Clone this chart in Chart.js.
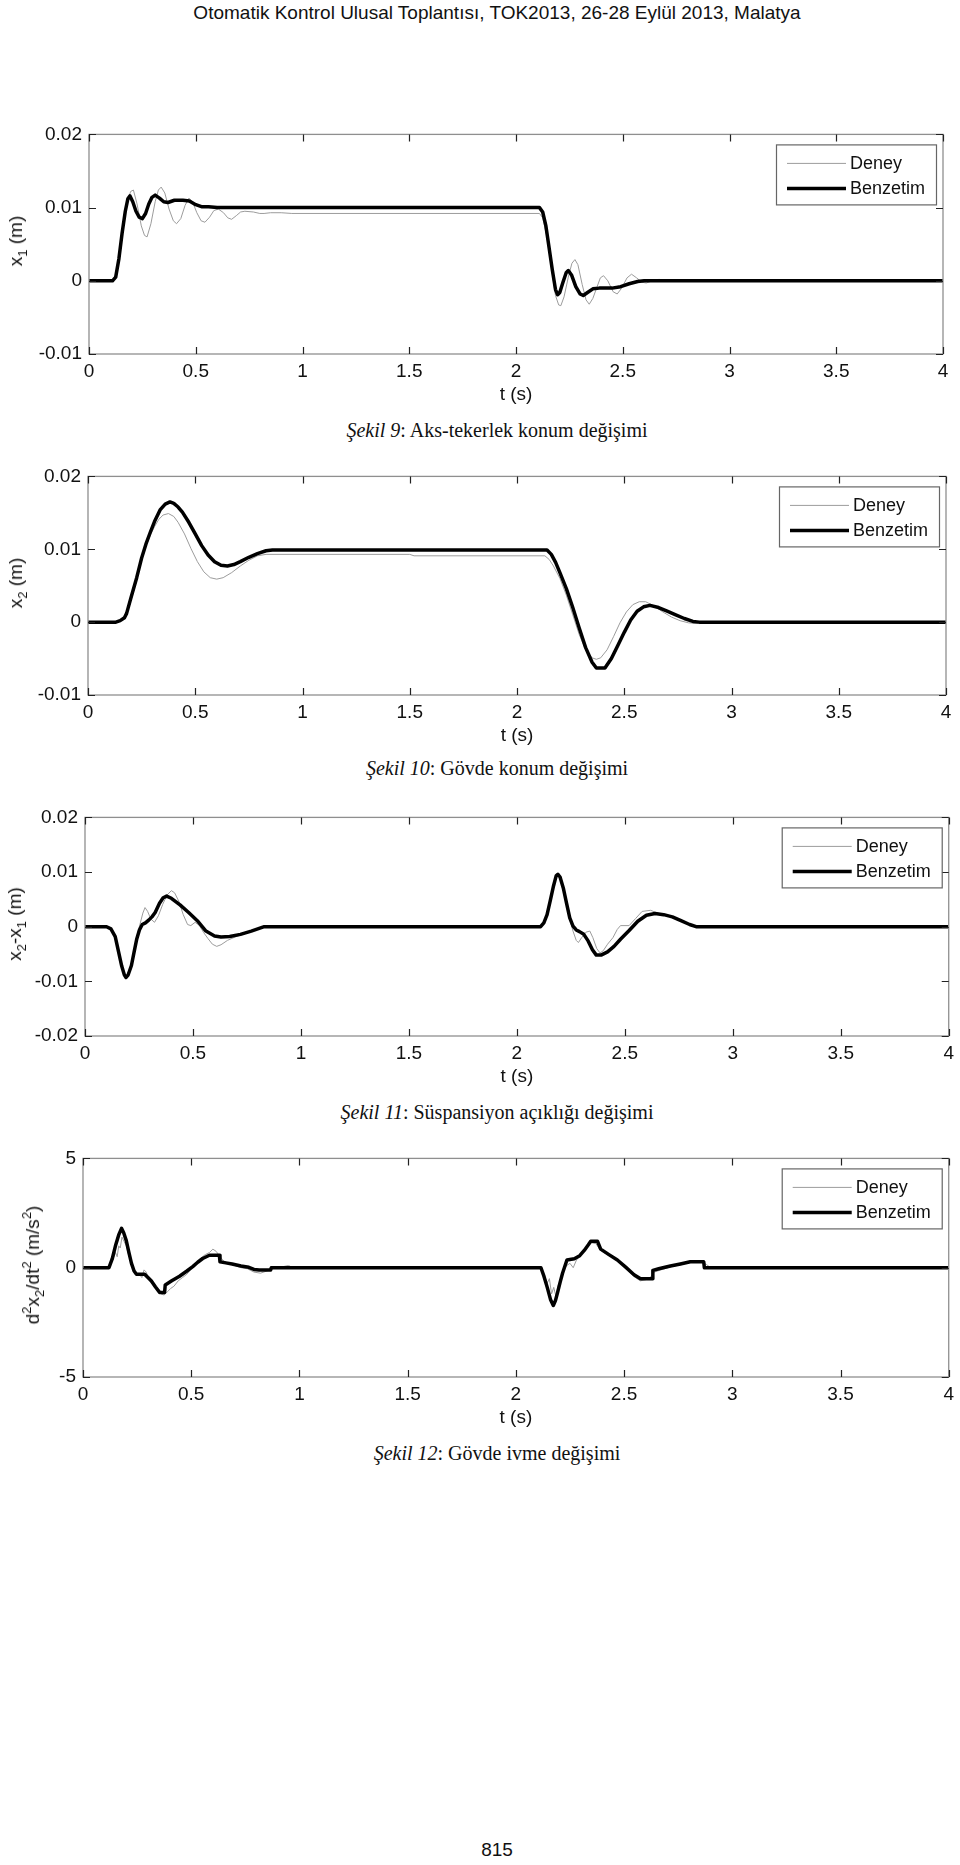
<!DOCTYPE html>
<html lang="tr">
<head>
<meta charset="utf-8">
<title>Şekil 9-12</title>
<script src="https://cdn.jsdelivr.net/npm/chart.js@4.4.0/dist/chart.umd.min.js"></script>
<style>
  html, body { margin: 0; padding: 0; background: #fff; }
  body { width: 960px; height: 1865px; position: relative; overflow: hidden;
         font-family: 'Liberation Sans', Arial, sans-serif; color: #111; }
  canvas { position: absolute; left: 0; }
  .header { position: absolute; top: 2px; left: 0; width: 994px; text-align: center; font-size: 19px; }
  .caption { position: absolute; left: 0; width: 994px; text-align: center; line-height: 22px;
             font-family: 'Liberation Serif', 'Times New Roman', serif; font-size: 20px; }
  .caption i { font-style: italic; }
  .ylab { position: absolute; white-space: nowrap; font-size: 19px; line-height: 22px;
          transform: translate(-50%, -50%) rotate(-90deg); }
  .ylab sub { font-size: 13px; vertical-align: -5px; line-height: 0; }
  .ylab sup { font-size: 13px; vertical-align: 8px; line-height: 0; }
  .page { position: absolute; top: 1839px; left: 0; width: 994px; text-align: center; font-size: 19px; }
</style>
</head>
<body>
<div class="header">Otomatik Kontrol Ulusal Toplantısı, TOK2013, 26-28 Eylül 2013, Malatya</div>

<canvas id="c1" width="960" height="292" style="top:116px"></canvas>
<div class="ylab" style="left:16px; top:241px">x<sub>1</sub> (m)</div>
<div class="caption" style="top:419px"><i>Şekil 9</i>: Aks-tekerlek konum değişimi</div>

<canvas id="c2" width="960" height="291" style="top:458px"></canvas>
<div class="ylab" style="left:16px; top:583px">x<sub>2</sub> (m)</div>
<div class="caption" style="top:757px"><i>Şekil 10</i>: Gövde konum değişimi</div>

<canvas id="c3" width="960" height="291" style="top:799px"></canvas>
<div class="ylab" style="left:15px; top:924px">x<sub>2</sub>-x<sub>1</sub> (m)</div>
<div class="caption" style="top:1101px"><i>Şekil 11</i>: Süspansiyon açıklığı değişimi</div>

<canvas id="c4" width="960" height="291" style="top:1140px"></canvas>
<div class="ylab" style="left:33px; top:1265px">d<sup>2</sup>x<sub>2</sub>/dt<sup>2</sup> (m/s<sup>2</sup>)</div>
<div class="caption" style="top:1442px"><i>Şekil 12</i>: Gövde ivme değişimi</div>

<div class="page">815</div>

<script>
// time axis, shared by all panels
const xTicks = [0, 0.5, 1, 1.5, 2, 2.5, 3, 3.5, 4];
const xTickLabels = ['0', '0.5', '1', '1.5', '2', '2.5', '3', '3.5', '4'];

// Şekil 9 - x1
const yTicks1 = [-0.01, 0, 0.01, 0.02];
const yTickLabels1 = ['-0.01', '0', '0.01', '0.02'];
const tDeney1 = [0, 0.11, 0.125, 0.14, 0.16, 0.18, 0.195, 0.208, 0.225, 0.245, 0.26, 0.272, 0.29, 0.31, 0.325, 0.338, 0.355, 0.375, 0.395, 0.41, 0.43, 0.45, 0.468, 0.485, 0.505, 0.525, 0.543, 0.565, 0.585, 0.606, 0.63, 0.65, 0.668, 0.69, 0.71, 0.73, 0.77, 0.8, 0.82, 0.85, 0.9, 0.95,
  2.11, 2.125, 2.145, 2.165, 2.185, 2.2, 2.21, 2.225, 2.245, 2.262, 2.276, 2.29, 2.31, 2.328, 2.343, 2.36, 2.38, 2.395, 2.41, 2.43, 2.455, 2.474, 2.495, 2.52, 2.541, 2.565, 2.59, 2.61, 2.64, 2.67, 2.7, 2.74, 2.78, 4];
const deney1 = [0, 0, 0.0005, 0.003, 0.0075, 0.0108, 0.0122, 0.0124, 0.0105, 0.0075, 0.0062, 0.006, 0.0078, 0.0108, 0.0124, 0.0128, 0.012, 0.0098, 0.0082, 0.0078, 0.0085, 0.0103, 0.0113, 0.0108, 0.0093, 0.0082, 0.008, 0.0087, 0.0096, 0.0098, 0.0093, 0.0086, 0.0084, 0.0089, 0.0094, 0.0095, 0.0094, 0.0092, 0.0092, 0.0093, 0.0093, 0.0092,
  0.0092, 0.0086, 0.006, 0.002, -0.002, -0.0033, -0.0034, -0.0022, 0.0005, 0.0024, 0.0029, 0.0022, -0.0005, -0.0026, -0.0032, -0.0024, -0.0008, 0.0004, 0.0007, 0, -0.0015, -0.0018, -0.001, 0.0004, 0.0009, 0.0004, -0.0002, -0.0003, 0, 0.0002, 0, -0.0001, 0, 0];
const tBenzetim1 = [0, 0.11, 0.125, 0.14, 0.155, 0.17, 0.182, 0.192, 0.205, 0.22, 0.235, 0.25, 0.265, 0.28, 0.295, 0.31, 0.33, 0.35, 0.37, 0.4, 0.44, 0.47, 0.5, 0.53, 0.56, 0.6,
  2.11, 2.125, 2.14, 2.155, 2.17, 2.185, 2.195, 2.205, 2.22, 2.235, 2.245, 2.26, 2.28, 2.3, 2.315, 2.335, 2.36, 2.39, 2.45, 2.49, 2.53, 2.57, 2.6, 4];
const benzetim1 = [0, 0, 0.0005, 0.003, 0.0065, 0.0095, 0.0112, 0.0116, 0.0108, 0.0095, 0.0087, 0.0085, 0.0092, 0.0105, 0.0114, 0.0117, 0.0113, 0.0108, 0.0107, 0.011, 0.011, 0.0109, 0.0104, 0.0101, 0.0101, 0.01,
  0.01, 0.0094, 0.0075, 0.0045, 0.0015, -0.0012, -0.0019, -0.0016, -0.0002, 0.0011, 0.0014, 0.0008, -0.0008, -0.0018, -0.002, -0.0016, -0.0011, -0.001, -0.001, -0.0008, -0.0004, -0.0001, 0, 0];

// Şekil 10 - x2
const yTicks2 = [-0.01, 0, 0.01, 0.02];
const yTickLabels2 = ['-0.01', '0', '0.01', '0.02'];
const tDeney2 = [0, 0.13, 0.15, 0.17, 0.19, 0.21, 0.23, 0.25, 0.27, 0.29, 0.31, 0.33, 0.35, 0.375, 0.4, 0.42, 0.45, 0.48, 0.51, 0.54, 0.57, 0.6, 0.63, 0.67, 0.71, 0.75, 0.79, 0.83, 1.5, 1.52,
  2.13, 2.15, 2.17, 2.2, 2.23, 2.26, 2.29, 2.32, 2.35, 2.37, 2.39, 2.42, 2.45, 2.48, 2.51, 2.54, 2.57, 2.6, 2.64, 2.68, 2.72, 2.76, 2.8, 2.85, 2.9, 4];
const deney2 = [0, 0, 0.0003, 0.0008, 0.002, 0.004, 0.0063, 0.0085, 0.0104, 0.0119, 0.0131, 0.0141, 0.0147, 0.0149, 0.0145, 0.0137, 0.0121, 0.0101, 0.0083, 0.0069, 0.0061, 0.0059, 0.0061, 0.0068, 0.0077, 0.0085, 0.0091, 0.0093, 0.0093, 0.0091,
  0.0091, 0.0086, 0.0077, 0.006, 0.0037, 0.001, -0.0017, -0.0038, -0.0049, -0.0051, -0.0049, -0.0038, -0.002, -0.0001, 0.0014, 0.0024, 0.0028, 0.0028, 0.0022, 0.0014, 0.0007, 0.0002, -0.0001, -0.0002, 0, 0];
const tBenzetim2 = [0, 0.13, 0.15, 0.17, 0.18, 0.2, 0.227, 0.25, 0.27, 0.29, 0.31, 0.336, 0.36, 0.382, 0.4, 0.42, 0.44, 0.47, 0.5, 0.53, 0.56, 0.59, 0.62, 0.65, 0.68, 0.71, 0.75, 0.79, 0.83, 0.86,
  2.14, 2.16, 2.18, 2.2, 2.23, 2.26, 2.29, 2.32, 2.35, 2.37, 2.41, 2.44, 2.47, 2.5, 2.53, 2.56, 2.59, 2.62, 2.66, 2.7, 2.74, 2.78, 2.82, 2.85, 4];
const benzetim2 = [0, 0, 0.0002, 0.0006, 0.0012, 0.0033, 0.0061, 0.0088, 0.0107, 0.0123, 0.0138, 0.0154, 0.0162, 0.0165, 0.0163, 0.0158, 0.0151, 0.0137, 0.0121, 0.0105, 0.0092, 0.0083, 0.0078, 0.0077, 0.0079, 0.0083, 0.0089, 0.0094, 0.0098, 0.0099,
  0.0099, 0.0093, 0.0082, 0.0068, 0.0046, 0.002, -0.0008, -0.0035, -0.0055, -0.0063, -0.0063, -0.005, -0.0032, -0.0014, 0.0003, 0.0015, 0.0021, 0.0023, 0.002, 0.0015, 0.001, 0.0005, 0.0001, 0, 0];

// Şekil 11 - x2-x1
const yTicks3 = [-0.02, -0.01, 0, 0.01, 0.02];
const yTickLabels3 = ['-0.02', '-0.01', '0', '0.01', '0.02'];
const tDeney3 = [0, 0.1, 0.12, 0.14, 0.155, 0.17, 0.182, 0.19, 0.2, 0.215, 0.228, 0.24, 0.255, 0.268, 0.278, 0.29, 0.305, 0.322, 0.34, 0.36, 0.38, 0.4, 0.415, 0.435, 0.455, 0.475, 0.49, 0.51, 0.53, 0.55, 0.57, 0.59, 0.61, 0.63, 0.66, 0.7, 0.73, 0.77, 0.83,
  2.11, 2.125, 2.14, 2.155, 2.17, 2.182, 2.19, 2.2, 2.215, 2.23, 2.245, 2.26, 2.275, 2.285, 2.3, 2.32, 2.338, 2.352, 2.37, 2.385, 2.4, 2.42, 2.445, 2.465, 2.48, 2.52, 2.55, 2.58, 2.62, 2.65, 2.7, 2.75, 2.8, 2.83, 4];
const deney3 = [0, 0, -0.0004, -0.0018, -0.0045, -0.0072, -0.0088, -0.0092, -0.0087, -0.007, -0.0043, -0.0018, 0.0005, 0.0025, 0.0035, 0.0028, 0.0014, 0.0008, 0.002, 0.0041, 0.0058, 0.0066, 0.0062, 0.0046, 0.0022, 0.0004, 0.0002, 0.0008, 0.0002, -0.0011, -0.0022, -0.0032, -0.0036, -0.0033, -0.0025, -0.0018, -0.0014, -0.0008, 0,
  0, 0.0007, 0.0022, 0.0048, 0.0075, 0.0093, 0.0097, 0.0092, 0.0072, 0.0043, 0.0014, -0.0008, -0.0025, -0.0029, -0.002, -0.001, -0.0008, -0.002, -0.004, -0.0048, -0.0044, -0.0032, -0.002, -0.0005, 0.0002, 0.0002, 0.0015, 0.0028, 0.003, 0.0025, 0.002, 0.0012, 0.0004, 0, 0];
const tBenzetim3 = [0, 0.1, 0.12, 0.14, 0.155, 0.17, 0.182, 0.19, 0.2, 0.215, 0.228, 0.24, 0.252, 0.265, 0.28, 0.295, 0.31, 0.325, 0.345, 0.362, 0.378, 0.4, 0.44, 0.48, 0.52, 0.56, 0.6, 0.63, 0.67, 0.72, 0.77, 0.83,
  2.11, 2.125, 2.14, 2.155, 2.17, 2.182, 2.19, 2.2, 2.215, 2.23, 2.245, 2.26, 2.275, 2.29, 2.31, 2.33, 2.35, 2.368, 2.39, 2.42, 2.45, 2.48, 2.52, 2.56, 2.6, 2.64, 2.68, 2.72, 2.76, 2.8, 2.83, 4];
const benzetim3 = [0, 0, -0.0004, -0.0018, -0.0045, -0.0072, -0.0088, -0.0093, -0.0088, -0.0071, -0.0045, -0.0022, -0.0006, 0.0004, 0.0007, 0.0012, 0.0018, 0.0026, 0.0043, 0.0053, 0.0056, 0.0052, 0.004, 0.0026, 0.0011, -0.0008, -0.0017, -0.0019, -0.0018, -0.0014, -0.0008, 0,
  0, 0.0007, 0.0022, 0.0048, 0.0075, 0.0093, 0.0096, 0.0091, 0.0071, 0.0043, 0.0016, 0.0001, -0.0006, -0.0009, -0.0014, -0.0026, -0.0042, -0.0052, -0.0052, -0.0046, -0.0036, -0.0023, -0.0007, 0.001, 0.0021, 0.0024, 0.0022, 0.0018, 0.0011, 0.0004, 0, 0];

// Şekil 12 - d2x2/dt2
const yTicks4 = [-5, 0, 5];
const yTickLabels4 = ['-5', '0', '5'];
const tDeney4 = [0, 0.12, 0.135, 0.15, 0.158, 0.165, 0.172, 0.18, 0.19, 0.2, 0.21, 0.222, 0.235, 0.248, 0.26, 0.272, 0.282, 0.292, 0.305, 0.32, 0.34, 0.36, 0.375, 0.39, 0.405, 0.42, 0.44, 0.46, 0.48, 0.5, 0.52, 0.545, 0.565, 0.585, 0.6, 0.615, 0.63, 0.65, 0.67, 0.7, 0.73, 0.76, 0.79, 0.82, 0.85, 0.875, 0.9, 0.95, 0.97,
  2.116, 2.13, 2.145, 2.155, 2.165, 2.175, 2.185, 2.195, 2.21, 2.22, 2.235, 2.25, 2.265, 2.28, 2.3, 2.32, 2.345, 2.37, 2.39, 2.43, 2.47, 2.51, 2.545, 2.575, 2.6, 2.62, 2.64, 2.67, 2.72, 2.77, 2.82, 2.85, 2.88, 2.9, 4];
const deney4 = [0, 0, 0.3, 0.7, 0.5, 1.0, 0.9, 1.4, 1.2, 1.0, 0.6, 0.3, -0.1, -0.35, -0.3, -0.45, -0.1, -0.2, -0.55, -0.75, -1.0, -1.2, -1.25, -1.1, -0.95, -0.85, -0.6, -0.45, -0.3, -0.05, 0.2, 0.45, 0.6, 0.7, 0.85, 0.75, 0.55, 0.3, 0.2, 0.1, 0, -0.05, -0.2, -0.25, -0.15, -0.05, 0, 0.1, 0,
  0, -0.3, -0.7, -0.5, -1.2, -0.9, -1.3, -0.8, -0.5, -0.1, 0.1, 0.2, 0, 0.35, 0.6, 0.8, 1.15, 1.1, 0.8, 0.55, 0.35, -0.05, -0.4, -0.6, -0.55, -0.45, -0.2, -0.1, 0.05, 0.15, 0.3, 0.3, 0.15, 0, 0];
const tBenzetim4 = [0, 0.12, 0.135, 0.15, 0.165, 0.178, 0.188, 0.2, 0.212, 0.224, 0.236, 0.247, 0.265, 0.285, 0.3, 0.316, 0.335, 0.354, 0.377, 0.38, 0.41, 0.446, 0.48, 0.507, 0.53, 0.553, 0.584, 0.63, 0.633, 0.66, 0.689, 0.73, 0.766, 0.79, 0.814, 0.867, 0.87,
  2.116, 2.13, 2.145, 2.16, 2.173, 2.183, 2.193, 2.205, 2.216, 2.236, 2.27, 2.295, 2.316, 2.335, 2.346, 2.377, 2.392, 2.43, 2.469, 2.51, 2.546, 2.576, 2.63, 2.633, 2.66, 2.714, 2.76, 2.806, 2.868, 2.871, 4];
const benzetim4 = [0, 0, 0.4, 1.0, 1.5, 1.8, 1.6, 1.24, 0.7, 0.2, -0.15, -0.3, -0.3, -0.3, -0.45, -0.61, -0.88, -1.13, -1.13, -0.79, -0.6, -0.39, -0.15, 0.05, 0.25, 0.42, 0.57, 0.57, 0.27, 0.22, 0.17, 0.08, 0.02, -0.08, -0.1, -0.1, 0,
  0, -0.4, -0.9, -1.45, -1.73, -1.5, -1.13, -0.65, -0.24, 0.35, 0.41, 0.55, 0.79, 1.05, 1.21, 1.21, 0.85, 0.6, 0.35, 0, -0.32, -0.51, -0.51, -0.12, -0.05, 0.08, 0.17, 0.27, 0.27, 0, 0];

const legendLabels = ['Deney', 'Benzetim'];

Chart.defaults.font.family = "'Liberation Sans', Arial, sans-serif";
Chart.defaults.font.size = 19;
Chart.defaults.color = '#111';

// MATLAB-like box, inward ticks and a framed legend
const boxPlugin = {
  id: 'matlabBox',
  afterDraw(chart) {
    const { ctx, chartArea: a, scales: { x, y } } = chart;
    ctx.save();
    ctx.strokeStyle = '#8f8f8f';
    ctx.lineWidth = 1.3;
    ctx.strokeRect(a.left, a.top, a.right - a.left, a.bottom - a.top);

    ctx.strokeStyle = '#222';
    ctx.lineWidth = 1.2;
    ctx.beginPath();
    x.ticks.forEach(t => {
      const px = Math.round(x.getPixelForValue(t.value)) + 0.5;
      ctx.moveTo(px, a.top); ctx.lineTo(px, a.top + 7);
      ctx.moveTo(px, a.bottom); ctx.lineTo(px, a.bottom - 7);
    });
    y.ticks.forEach(t => {
      const py = Math.round(y.getPixelForValue(t.value)) + 0.5;
      ctx.moveTo(a.left, py); ctx.lineTo(a.left + 7, py);
      ctx.moveTo(a.right, py); ctx.lineTo(a.right - 7, py);
    });
    ctx.stroke();

    // legend
    const bw = 160, bh = 60;
    const bx = a.right - 7 - bw, by = a.top + 10;
    ctx.fillStyle = '#fff';
    ctx.fillRect(bx, by, bw, bh);
    ctx.strokeStyle = '#666';
    ctx.lineWidth = 1.2;
    ctx.strokeRect(bx + 0.5, by + 0.5, bw, bh);
    ctx.font = "18px 'Liberation Sans', Arial, sans-serif";
    ctx.textBaseline = 'middle';
    ctx.textAlign = 'left';
    chart.data.datasets.forEach((ds, i) => {
      const ly = by + 19 + i * 25;
      ctx.strokeStyle = ds.borderColor;
      ctx.lineWidth = ds.borderWidth;
      ctx.beginPath();
      ctx.moveTo(bx + 11, ly); ctx.lineTo(bx + 70, ly);
      ctx.stroke();
      ctx.fillStyle = '#111';
      ctx.fillText(ds.label, bx + 74, ly + 1);
    });
    ctx.restore();
  }
};

function toPoints(ts, vs) {
  return ts.map((t, i) => ({ x: t, y: vs[i] }));
}

function makeChart(id, plotLeft, plotRight, yMin, yMax, yTicks, yLabels, tD, vD, tB, vB) {
  new Chart(document.getElementById(id), {
    type: 'line',
    data: {
      datasets: [
        { label: legendLabels[0], data: toPoints(tD, vD), borderColor: '#9c9c9c', borderWidth: 1,
          pointRadius: 0, tension: 0, order: 1 },
        { label: legendLabels[1], data: toPoints(tB, vB), borderColor: '#000', borderWidth: 3.5,
          pointRadius: 0, tension: 0, order: 0, borderJoinStyle: 'round' }
      ]
    },
    options: {
      responsive: false,
      animation: false,
      devicePixelRatio: 1,
      layout: { autoPadding: false, padding: { left: 0, right: 960 - plotRight, top: 12, bottom: 0 } },
      plugins: { legend: { display: false }, tooltip: { enabled: false } },
      scales: {
        x: {
          type: 'linear', min: 0, max: 4,
          grid: { display: false, drawTicks: false },
          border: { display: false },
          afterBuildTicks: s => { s.ticks = xTicks.map(v => ({ value: v })); },
          afterFit: s => { s.height = 54; },
          ticks: { padding: 6, maxRotation: 0, autoSkip: false, callback: (v, i) => xTickLabels[i] },
          title: { display: true, text: 't (s)', padding: { top: 0, bottom: 2 }, font: { size: 19 } }
        },
        y: {
          type: 'linear', min: yMin, max: yMax,
          grid: { display: false, drawTicks: false },
          border: { display: false },
          afterBuildTicks: s => { s.ticks = yTicks.map(v => ({ value: v })); },
          afterFit: s => { s.width = plotLeft; },
          ticks: { padding: 7, autoSkip: false, callback: (v, i) => yLabels[i] }
        }
      }
    },
    plugins: [boxPlugin]
  });
}

makeChart('c1', 89, 943, -0.01, 0.02, yTicks1, yTickLabels1, tDeney1, deney1, tBenzetim1, benzetim1);
makeChart('c2', 88, 946, -0.01, 0.02, yTicks2, yTickLabels2, tDeney2, deney2, tBenzetim2, benzetim2);
makeChart('c3', 85, 949, -0.02, 0.02, yTicks3, yTickLabels3, tDeney3, deney3, tBenzetim3, benzetim3);
makeChart('c4', 83, 953, -5, 5, yTicks4, yTickLabels4, tDeney4, deney4, tBenzetim4, benzetim4);
</script>
</body>
</html>
